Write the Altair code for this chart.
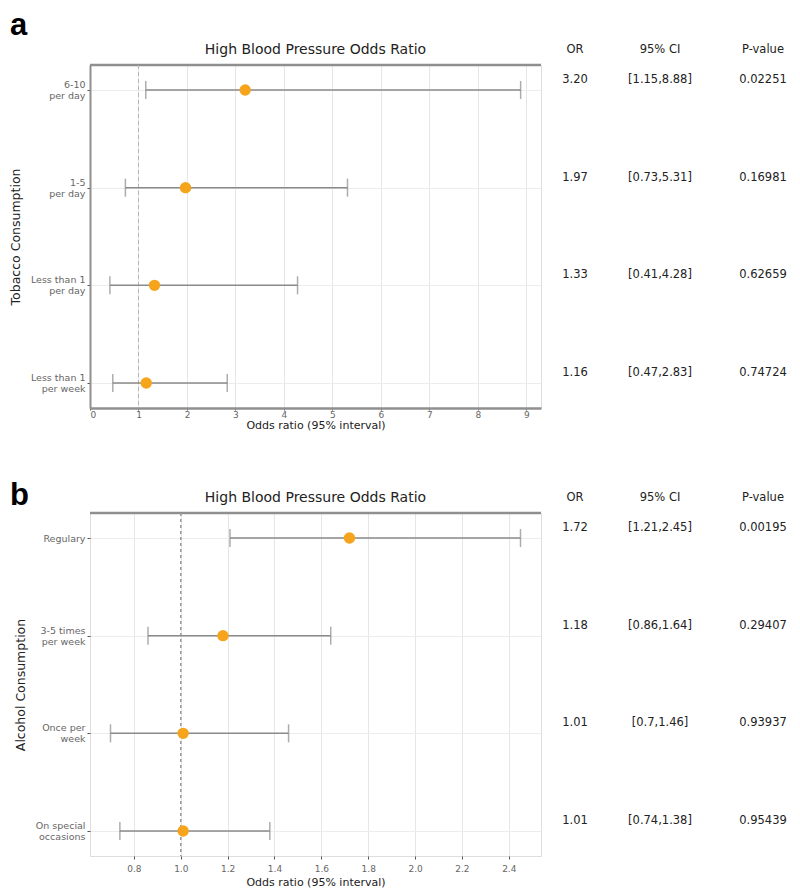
import altair as alt
import pandas as pd

# ---------------- data ----------------
tob_cats = ["6-10\nper day", "1-5\nper day", "Less than 1\nper day", "Less than 1\nper week"]
tob_or = [3.20, 1.97, 1.33, 1.16]
tob_lo = [1.15, 0.73, 0.41, 0.47]
tob_hi = [8.88, 5.31, 4.28, 2.83]
tob_or_txt = ["3.20", "1.97", "1.33", "1.16"]
tob_ci_txt = ["[1.15,8.88]", "[0.73,5.31]", "[0.41,4.28]", "[0.47,2.83]"]
tob_p_txt = ["0.02251", "0.16981", "0.62659", "0.74724"]

alc_cats = ["Regulary", "3-5 times\nper week", "Once per\nweek", "On special\noccasions"]
alc_or = [1.72, 1.18, 1.01, 1.01]
alc_lo = [1.21, 0.86, 0.70, 0.74]
alc_hi = [2.45, 1.64, 1.46, 1.38]
alc_or_txt = ["1.72", "1.18", "1.01", "1.01"]
alc_ci_txt = ["[1.21,2.45]", "[0.86,1.64]", "[0.7,1.46]", "[0.74,1.38]"]
alc_p_txt = ["0.00195", "0.29407", "0.93937", "0.95439"]

tob_ticks = [0, 1, 2, 3, 4, 5, 6, 7, 8, 9]
alc_ticks = [0.8, 1.0, 1.2, 1.4, 1.6, 1.8, 2.0, 2.2, 2.4]

title_txt = "High Blood Pressure Odds Ratio"
x_title = "Odds ratio (95% interval)"
headers = ["OR", "95% CI", "P-value"]

FONT = "DejaVu Sans"
W, H = 451, 343
ORANGE = "#F5A41C"
BAR = "#8a8a8a"


def panel(cats, ors, los, his, or_t, ci_t, p_t, domain, ticks, ytitle, letter,
          fmt, boxed, ref_dash, ref_color, ref_width, letter_y,
          tick_size, label_pad, title_pad):
    df = pd.DataFrame({"cat": cats, "or": ors, "lo": los, "hi": his,
                       "or_t": or_t, "ci_t": ci_t, "p_t": p_t})
    base = alt.Chart(df)
    yscale = alt.Scale(type="point", padding=0.256)
    y_axis = alt.Axis(
        title=ytitle, labelExpr="split(datum.label, '\\n')",
        labelFontSize=9.5, labelColor="#666", labelFont=FONT,
        labelOffset={"condition": {"test": "indexof(datum.value, '\\n') >= 0", "value": -5.5},
                     "value": 0},
        titleFont=FONT, titleFontSize=12.5, titleFontWeight="normal", titleColor="#222",
        titlePadding=8, tickSize=3, tickColor="#555",
        grid=True, gridColor="#ececec", gridWidth=1,
        domain=boxed, domainColor="#8f8f8f", domainWidth=2,
        labelLineHeight=11,
    )
    x_axis = alt.Axis(
        title=x_title, values=ticks, format=fmt,
        labelFontSize=9, labelColor="#666", labelFont=FONT, labelPadding=label_pad,
        titleFont=FONT, titleFontSize=11, titleFontWeight="normal", titleColor="#222",
        titlePadding=title_pad, tickSize=tick_size, tickColor="#555",
        grid=True, gridColor="#e6e6e6", gridWidth=1,
        domain=boxed, domainColor="#8f8f8f", domainWidth=2.5,
    )
    Y = alt.Y("cat:N", sort=cats, scale=yscale, axis=y_axis)
    X = alt.X("lo:Q", scale=alt.Scale(domain=domain, nice=False, zero=False), axis=x_axis)

    bars = base.mark_rule(color=BAR, strokeWidth=1.5).encode(x=X, x2="hi:Q", y=Y)
    cap_lo = base.mark_tick(color=BAR, orient="vertical", size=18, thickness=1.5).encode(
        x=alt.X("lo:Q"), y=alt.Y("cat:N", sort=cats))
    cap_hi = base.mark_tick(color=BAR, orient="vertical", size=18, thickness=1.5).encode(
        x=alt.X("hi:Q"), y=alt.Y("cat:N", sort=cats))
    ref = alt.Chart(pd.DataFrame({"v": [1.0]})).mark_rule(
        color=ref_color, strokeDash=ref_dash, strokeWidth=ref_width).encode(x="v:Q")
    pts = base.mark_circle(color=ORANGE, opacity=1, size=130).encode(
        x=alt.X("or:Q"), y=alt.Y("cat:N", sort=cats))
    top = alt.Chart(pd.DataFrame({"v": [0]})).mark_rule(color="#8f8f8f", strokeWidth=2.5).encode(
        x=alt.value(0), x2=alt.value(W), y=alt.value(0))

    txt_common = dict(font=FONT, fontSize=11.5, color="#222", align="center", baseline="middle", dy=-10)
    t_or = base.mark_text(**txt_common).encode(x=alt.value(485), y=alt.Y("cat:N", sort=cats), text="or_t:N")
    t_ci = base.mark_text(**txt_common).encode(x=alt.value(570), y=alt.Y("cat:N", sort=cats), text="ci_t:N")
    t_p = base.mark_text(**txt_common).encode(x=alt.value(673), y=alt.Y("cat:N", sort=cats), text="p_t:N")

    hdf = pd.DataFrame({"h": headers, "xp": [485, 570, 673]})
    hdr = alt.Chart(hdf).mark_text(font=FONT, fontSize=11.5, color="#222", align="center",
                                    baseline="middle").encode(
        x=alt.X("xp:Q", scale=None), y=alt.value(-15), text="h:N")
    ttl = alt.Chart(pd.DataFrame({"t": [title_txt]})).mark_text(
        font=FONT, fontSize=14, color="#222", align="center", baseline="middle").encode(
        x=alt.value(W / 2), y=alt.value(-15), text="t:N")
    let = alt.Chart(pd.DataFrame({"t": [letter]})).mark_text(
        font="Liberation Sans", fontSize=31, fontWeight="bold", color="#000", align="left",
        baseline="middle").encode(x=alt.value(-80), y=alt.value(letter_y), text="t:N")

    layers = [top, ref, bars, cap_lo, cap_hi, pts, t_or, t_ci, t_p, hdr, ttl, let]
    return alt.layer(*layers).properties(width=W, height=H)


pa = panel(tob_cats, tob_or, tob_lo, tob_hi, tob_or_txt, tob_ci_txt, tob_p_txt,
           [0, 9.3], tob_ticks, "Tobacco Consumption", "a", "d", True,
           [4, 3], "#b5b5b5", 1, -39, 2, 0, 0)
pb = panel(alc_cats, alc_or, alc_lo, alc_hi, alc_or_txt, alc_ci_txt, alc_p_txt,
           [0.6125, 2.5375], alc_ticks, "Alcohol Consumption", "b", ".1f", False,
           [3, 3], "#999", 1.5, -17, 3, 5, 3)

chart = alt.vconcat(pa, pb, spacing=48).properties(
    padding={"left": 0, "top": 1, "right": 0, "bottom": 0}
).configure_view(stroke=None).configure(background="white")

chart.save("out.html", embed_options={"renderer": "svg", "actions": False})
